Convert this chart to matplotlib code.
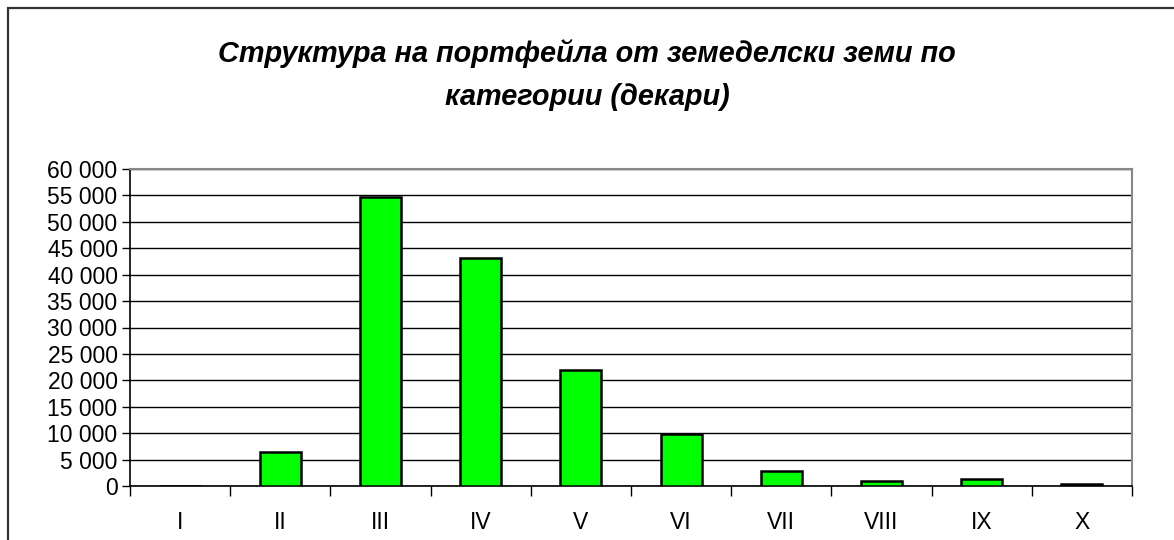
import matplotlib.pyplot as plt
from matplotlib.patches import Rectangle
from matplotlib.ticker import FuncFormatter, MultipleLocator

categories = ["I", "II", "III", "IV", "V", "VI", "VII", "VIII", "IX", "X"]
decares = [0, 6500, 54700, 43100, 21900, 9900, 2750, 900, 1250, 400]

plt.rcParams["font.family"] = ["Liberation Sans", "DejaVu Sans"]

fig = plt.figure(figsize=(11.74, 5.4), dpi=100)

# outer chart frame (top + left visible)
fig.patches.append(Rectangle((8 / 1174, -0.1), 1.2, 532 / 540 + 0.1,
                             transform=fig.transFigure, fill=False,
                             edgecolor="#333333", linewidth=1.6))

# plot area in pixels: x 130..1132, y 169..486
ax = fig.add_axes([130 / 1174, (540 - 486) / 540, 1002 / 1174, 317 / 540])

x = range(len(categories))
ax.bar(x, decares, width=0.41, color="#00ff00", edgecolor="black", linewidth=1.8, zorder=3)

ax.set_xlim(-0.5, len(categories) - 0.5)
ax.set_ylim(0, 60000)
ax.yaxis.set_major_locator(MultipleLocator(5000))
ax.yaxis.set_major_formatter(FuncFormatter(lambda v, p: f"{int(v):,}".replace(",", " ")))
ax.grid(axis="y", color="black", linewidth=1.0, zorder=0)

ax.set_xticks([i - 0.5 for i in range(len(categories) + 1)], minor=False)
ax.set_xticklabels([])
ax.set_xticks(list(x), minor=True)
ax.set_xticklabels(categories, minor=True, fontsize=16.5)
ax.tick_params(axis="x", which="major", direction="out", length=7, width=1)
ax.tick_params(axis="x", which="minor", length=0, pad=18)
ax.tick_params(axis="y", direction="out", length=6, width=1, labelsize=16.5, pad=3)

for side in ["top", "right"]:
    ax.spines[side].set_color("#888888")
    ax.spines[side].set_linewidth(1.5)
ax.spines["left"].set_linewidth(1.2)
ax.spines["bottom"].set_linewidth(1.2)

fig.text(0.5, 1 - 75 / 540,
         "Структура на портфейла от земеделски земи по\nкатегории (декари)",
         ha="center", va="center", fontsize=20.8, fontweight="bold", fontstyle="italic",
         linespacing=1.72)

fig.savefig("out.png", dpi=100)
